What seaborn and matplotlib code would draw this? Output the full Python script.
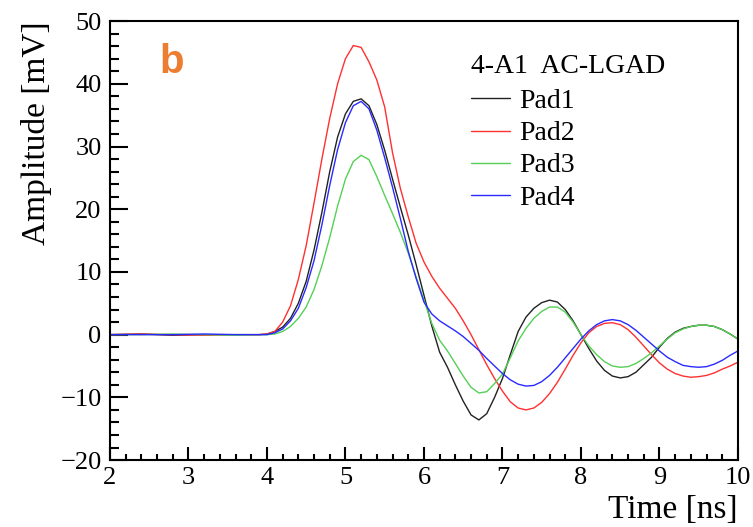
import seaborn as sns
import matplotlib.pyplot as plt
import pandas as pd
from matplotlib.ticker import MultipleLocator

# time axis [ns]
time = [2.0, 2.4, 2.8, 3.2, 3.6, 3.9,
        4.0, 4.1, 4.2, 4.3, 4.4, 4.5, 4.6, 4.7, 4.8, 4.9,
        5.0, 5.1, 5.2, 5.3, 5.4, 5.5, 5.6, 5.7, 5.8, 5.9,
        6.0, 6.1, 6.2, 6.3, 6.4, 6.5, 6.6, 6.7, 6.8, 6.9,
        7.0, 7.1, 7.2, 7.3, 7.4, 7.5, 7.6, 7.7, 7.8, 7.9,
        8.0, 8.1, 8.2, 8.3, 8.4, 8.5, 8.6, 8.7, 8.8, 8.9,
        9.0, 9.1, 9.2, 9.3, 9.4, 9.5, 9.6, 9.7, 9.8, 9.9, 10.0]

# amplitudes [mV]
pad1 = [0.0, 0.1, -0.1, 0.0, 0.0, 0.0,
        0.1, 0.5, 1.2, 2.6, 5.0, 8.5, 13.5, 19.5, 26.0, 31.5,
        35.2, 37.2, 37.6, 36.5, 33.5, 29.4, 24.8, 20.3, 15.9, 11.2,
        6.3, 1.4, -2.8, -5.2, -8.0, -10.6, -12.8, -13.6, -12.6, -10.0,
        -7.0, -3.2, 0.5, 2.8, 4.2, 5.1, 5.5, 5.2, 4.0, 2.2,
        0.0, -2.2, -4.2, -5.7, -6.6, -6.9, -6.7, -6.0, -4.8, -3.6,
        -2.0, -0.6, 0.4, 1.0, 1.3, 1.5, 1.5, 1.3, 0.8, 0.1, -0.7]
pad2 = [0.0, 0.1, 0.0, -0.1, 0.0, 0.0,
        0.1, 0.5, 2.0, 4.6, 8.8, 14.2, 21.0, 28.0, 34.5, 40.0,
        44.0, 46.1, 45.8, 43.5, 40.6, 36.3, 29.0, 23.3, 18.8, 14.6,
        11.6, 9.3, 7.4, 5.8, 4.2, 2.2, 0.0, -2.4, -4.8, -7.0,
        -9.0, -10.7, -11.7, -12.0, -11.7, -10.8, -9.4, -7.6, -5.5, -3.3,
        -1.3, 0.3, 1.3, 1.8, 1.9, 1.6, 0.8, -0.4, -1.8, -3.2,
        -4.5, -5.5, -6.2, -6.6, -6.8, -6.7, -6.5, -6.1, -5.5, -5.0, -4.4]
pad3 = [0.0, 0.0, 0.1, 0.0, -0.1, 0.0,
        0.0, 0.1, 0.5, 1.3, 2.6, 4.4, 7.2, 11.0, 15.5, 20.5,
        24.8, 27.6, 28.6, 27.9, 25.2, 22.2, 19.3, 16.3, 13.0, 9.2,
        5.5, 1.8, -0.9, -2.6, -4.6, -6.6, -8.4, -9.3, -9.1, -7.8,
        -6.3, -3.7, -1.0, 1.0, 2.6, 3.7, 4.4, 4.4, 3.6, 2.0,
        0.0, -1.8, -3.2, -4.3, -5.0, -5.2, -5.1, -4.6, -3.8, -2.9,
        -1.8, -0.7, 0.3, 0.9, 1.3, 1.5, 1.5, 1.3, 0.8, 0.1, -0.7]
pad4 = [0.0, 0.0, 0.0, 0.1, 0.0, 0.0,
        0.0, 0.3, 0.9, 2.2, 4.2, 7.5, 11.8, 17.5, 23.8, 29.5,
        33.8, 36.5, 37.2, 36.0, 32.6, 28.2, 23.5, 18.5, 13.3, 9.0,
        5.2, 3.3, 2.2, 1.4, 0.6, -0.3, -1.4, -2.5, -3.8, -5.0,
        -6.2, -7.2, -7.9, -8.2, -8.1, -7.5, -6.5, -5.2, -3.7, -2.2,
        -0.7, 0.6, 1.6, 2.2, 2.4, 2.2, 1.6, 0.7, -0.4, -1.5,
        -2.6, -3.6, -4.3, -4.9, -5.1, -5.2, -5.1, -4.7, -4.1, -3.3, -2.6]

pads = ['Pad1', 'Pad2', 'Pad3', 'Pad4']
colors = {'Pad1': '#222222', 'Pad2': '#ff3030', 'Pad3': '#55d055', 'Pad4': '#2a2aff'}

df = pd.DataFrame({
    'time': time * 4,
    'amp': pad1 + pad2 + pad3 + pad4,
    'pad': [p for p in pads for _ in time],
})

sns.set_style('ticks')
plt.rcParams['font.family'] = ['Liberation Serif', 'DejaVu Serif']
plt.rcParams['axes.linewidth'] = 1.5
plt.rcParams['text.color'] = 'black'
plt.rcParams['axes.labelcolor'] = 'black'
plt.rcParams['xtick.color'] = 'black'
plt.rcParams['ytick.color'] = 'black'

fig = plt.figure(figsize=(7.53, 5.27), dpi=100)
ax = fig.add_axes([0.146, 0.127, 0.834, 0.833])

sns.lineplot(data=df, x='time', y='amp', hue='pad', palette=colors,
             linewidth=1.0, legend=False, ax=ax, sort=False)

ax.set_xlim(2, 10)
ax.set_ylim(-20, 50)
ax.xaxis.set_major_locator(MultipleLocator(1))
ax.xaxis.set_minor_locator(MultipleLocator(0.2))
ax.yaxis.set_major_locator(MultipleLocator(10))
ax.yaxis.set_minor_locator(MultipleLocator(2))
ax.tick_params(axis='both', which='both', direction='in', width=1.5,
               labelsize=19, color='black', labelcolor='black')
ax.tick_params(axis='x', which='major', length=9.5, pad=5)
ax.tick_params(axis='x', which='minor', length=4)
ax.tick_params(axis='y', which='major', length=13, pad=6)
ax.tick_params(axis='y', which='minor', length=6.5)
for s in ax.spines.values():
    s.set_visible(True)
    s.set_color('black')

ax.set_xlabel('Time [ns]', fontsize=24, loc='right', labelpad=4)
ax.set_ylabel('Amplitude [mV]', fontsize=24, loc='top', labelpad=6)

ax.text(0.078, 0.95, 'b', transform=ax.transAxes, fontsize=29,
        fontweight='bold', color='#ed7d31', family='Liberation Sans',
        va='top', ha='left')

handles = ax.lines[:4]
leg = ax.legend(handles, pads, title='4-A1  AC-LGAD', loc='upper left',
                bbox_to_anchor=(0.575, 0.925), frameon=False, fontsize=20,
                title_fontsize=20, handlelength=1.4, handletextpad=0.32,
                labelspacing=0.24, borderpad=0, borderaxespad=0)
leg._legend_box.align = 'left'
leg._legend_box.sep = 7

fig.savefig('out.png', dpi=100)
plt.close()
